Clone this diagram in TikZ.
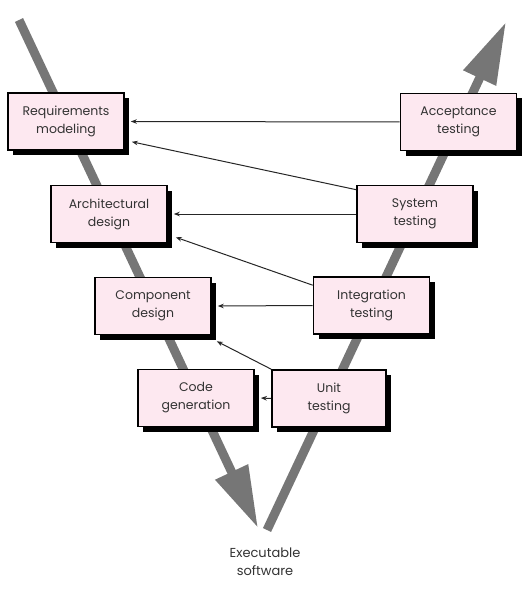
\documentclass[tikz,border=0pt]{standalone}
\usepackage{fontspec}
\setmainfont{Poppins}
\usetikzlibrary{arrows.meta,shadows}
\definecolor{boxpink}{RGB}{253,232,240}
\definecolor{vgray}{RGB}{118,118,118}

\begin{document}
\begin{tikzpicture}[x=1pt,y=-1pt,>={Stealth[length=6pt,width=4.5pt]},
  phase/.style={draw=black,line width=1.6pt,fill=boxpink,minimum width=116pt,
    minimum height=57pt,align=center,text=black!80,
    font=\fontsize{12.5}{18}\selectfont,
    drop shadow={shadow xshift=5pt,shadow yshift=-5pt,fill=black,opacity=1}},
  vbar/.style={line width=9pt,vgray,-{Triangle[length=62pt,width=34pt]}},
  link/.style={->,line width=1pt,black!85}]
  \useasboundingbox (0,0) rectangle (523,591);
  % the V
  \coordinate (vtop) at (19,20);
  \coordinate (vbot) at (258,528);
  \coordinate (vstart) at (267,530);
  \coordinate (vend) at (506,22);
  \draw[vbar] (vtop) -- (vbot);
  \draw[vbar] (vstart) -- (vend);
  % phases
  \node[phase] (req) at (66,121.5) {Requirements\\modeling};
  \node[phase] (acc) at (458.5,122) {Acceptance\\testing};
  \node[phase] (arch) at (109,214) {Architectural\\design};
  \node[phase] (sys) at (415,214) {System\\testing};
  \node[phase] (comp) at (153,306) {Component\\design};
  \node[phase] (integ) at (371.5,305.5) {Integration\\testing};
  \node[phase] (code) at (196,398) {Code\\generation};
  \node[phase,minimum width=114pt] (unit) at (329,398.5) {Unit\\testing};
  \node[align=center,text=black!80,font=\fontsize{13}{18}\selectfont] (exe) at (265,562) {Executable\\software};
  % feedback links
  \draw[link] (acc.west) -- ([xshift=6pt]req.east);
  \draw[link] ([yshift=-5pt]sys.north west) -- ([xshift=7pt,yshift=9pt]req.south east);
  \draw[link] (sys.west) -- ([xshift=6pt]arch.east);
  \draw[link] ([yshift=-9pt]integ.north west) -- ([xshift=8pt,yshift=6pt]arch.south east);
  \draw[link] (integ.west) -- ([xshift=6pt]comp.east);
  \draw[link] (unit.north west) -- ([xshift=5pt,yshift=-6pt]comp.south east);
  \draw[link] (unit.west) -- ([xshift=6pt]code.east);
\end{tikzpicture}
\end{document}
